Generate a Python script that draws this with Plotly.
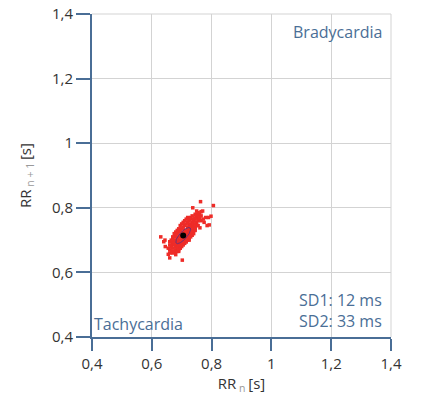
import numpy as np
import plotly.graph_objects as go

# RR intervals (s): RR_n and RR_n+1
rr_n = [0.66,0.665,0.67,0.67,0.675,0.675,0.68,0.68,0.68,0.685,0.685,0.69,0.69,0.69,0.695,0.695,0.70,0.70,0.70,0.705,0.705,0.71,0.71,0.71,0.715,0.715,0.72,0.72,0.72,0.725,0.725,0.73,0.73,0.73,0.735,0.735,0.74,0.74,0.74,0.745,0.745,0.75,0.75,0.755,0.755,0.76,0.76,
        0.665,0.67,0.675,0.68,0.685,0.69,0.695,0.70,0.705,0.71,0.715,0.72,0.725,0.73,
        0.675,0.68,0.685,0.69,0.695,0.70,0.705,0.71,0.715,0.72,0.725,0.73,0.735,0.74,0.745,0.75,
        0.655,0.66,0.66,0.665,0.67,0.69,0.695,0.715,0.725,
        0.66,0.665,0.67,0.675,0.68,0.685,0.69,0.695,0.70,0.705,0.71,0.715,0.72,
        0.685,0.69,0.695,0.70,0.705,0.71,0.715,0.72,0.725,0.73,0.735,0.74,0.745,
        0.725,0.73,0.735,0.74,0.745,0.75,0.755,0.76,0.765,0.735,0.745,0.755,
        0.763,0.737,0.806,0.765,0.744,0.772,0.798,0.792,0.761,0.630,0.644,0.655,0.702,0.78,0.785,0.77,0.75,0.765,0.775,0.645,0.66,0.68,0.79,0.64]
rr_n1 = [0.67,0.68,0.675,0.69,0.685,0.695,0.68,0.69,0.70,0.695,0.705,0.69,0.70,0.71,0.70,0.715,0.70,0.71,0.72,0.705,0.725,0.71,0.72,0.73,0.715,0.73,0.72,0.73,0.74,0.735,0.745,0.73,0.74,0.75,0.745,0.755,0.74,0.75,0.76,0.75,0.765,0.755,0.77,0.76,0.775,0.765,0.78,
         0.695,0.705,0.71,0.715,0.72,0.725,0.73,0.735,0.74,0.745,0.75,0.755,0.76,0.765,
         0.665,0.67,0.675,0.68,0.685,0.69,0.695,0.70,0.705,0.71,0.715,0.72,0.73,0.73,0.74,0.745,
         0.675,0.685,0.66,0.665,0.66,0.665,0.675,0.695,0.705,
         0.695,0.70,0.71,0.72,0.725,0.73,0.735,0.745,0.75,0.755,0.76,0.765,0.77,
         0.665,0.67,0.675,0.68,0.685,0.69,0.695,0.70,0.70,0.71,0.715,0.72,0.73,
         0.765,0.77,0.775,0.765,0.78,0.78,0.785,0.77,0.76,0.725,0.735,0.745,
         0.819,0.800,0.807,0.788,0.769,0.765,0.774,0.747,0.738,0.710,0.700,0.656,0.638,0.77,0.745,0.79,0.79,0.775,0.755,0.68,0.645,0.655,0.77,0.695]

center = (0.705, 0.714)
sd1_ms = 12
sd2_ms = 33

ticks = [0.4, 0.6, 0.8, 1.0, 1.2, 1.4]
tick_text = ["0,4", "0,6", "0,8", "1", "1,2", "1,4"]

axis_col = "#4a6e96"
grid_col = "#d3d3d3"
font_fam = "Open Sans"

fig = go.Figure()
fig.add_trace(go.Scatter(x=rr_n, y=rr_n1, mode="markers",
                         marker=dict(symbol="square", size=3.5, color="#ee2c28", line=dict(width=0)),
                         hoverinfo="skip"))

# SD1/SD2 ellipse
t = np.linspace(0, 2 * np.pi, 100)
a = sd2_ms / 1000.0
b = sd1_ms / 1000.0
ex = center[0] + (a * np.cos(t) - b * np.sin(t)) / np.sqrt(2)
ey = center[1] + (a * np.cos(t) + b * np.sin(t)) / np.sqrt(2)
fig.add_trace(go.Scatter(x=ex, y=ey, mode="lines", line=dict(color="rgba(70,50,140,0.75)", width=1),
                         hoverinfo="skip"))
fig.add_trace(go.Scatter(x=[center[0]], y=[center[1]], mode="markers",
                         marker=dict(symbol="circle", size=6, color="black"), hoverinfo="skip"))

axis_common = dict(range=[0.4, 1.4], tickvals=ticks, ticktext=tick_text, showgrid=True,
                   gridcolor=grid_col, gridwidth=1, showline=True, linecolor=axis_col, linewidth=2,
                   ticks="outside", tickcolor=axis_col, tickwidth=2, zeroline=False, automargin=False,
                   ticklabeloverflow="allow",
                   tickfont=dict(family=font_fam, size=15, color="#333333"), fixedrange=True)

fig.update_layout(
    width=421, height=405,
    margin=dict(l=92, r=30, t=14, b=68, autoexpand=False),
    paper_bgcolor="white", plot_bgcolor="white",
    showlegend=False,
    xaxis=dict(**axis_common, ticklen=12,
               title=dict(text="RR<sub><span style='color:#999'> n </span></sub>[s]",
                          font=dict(family=font_fam, size=15, color="#333333"), standoff=2)),
    yaxis=dict(**axis_common, ticklen=14,
               title=dict(text="RR<sub><span style='color:#999'> n + 1 </span></sub>[s]",
                          font=dict(family=font_fam, size=15, color="#333333"), standoff=17)),
    shapes=[
        dict(type="line", xref="paper", yref="paper", x0=0, x1=1, y0=1, y1=1,
             line=dict(color=grid_col, width=1)),
        dict(type="line", xref="paper", yref="paper", x0=1, x1=1, y0=0, y1=1,
             line=dict(color=grid_col, width=1)),
    ],
    annotations=[
        dict(text="Bradycardia", xref="paper", yref="paper", x=0.975, y=0.985, xanchor="right",
             yanchor="top", showarrow=False, font=dict(family=font_fam, size=16, color=axis_col)),
        dict(text="Tachycardia", xref="paper", yref="paper", x=0.0, y=0.0, xanchor="left",
             yanchor="bottom", showarrow=False, font=dict(family=font_fam, size=16, color=axis_col)),
        dict(text=f"SD1: {sd1_ms} ms<br>SD2: {sd2_ms} ms", xref="paper", yref="paper", x=0.975, y=0.01,
             xanchor="right", yanchor="bottom", align="right", showarrow=False,
             font=dict(family=font_fam, size=16, color=axis_col)),
    ],
)

# remove the browser's default page margin so the figure sits at the window origin
fig.write_html("out.html", config={"displayModeBar": False},
               post_script="document.body.style.margin='0';")
